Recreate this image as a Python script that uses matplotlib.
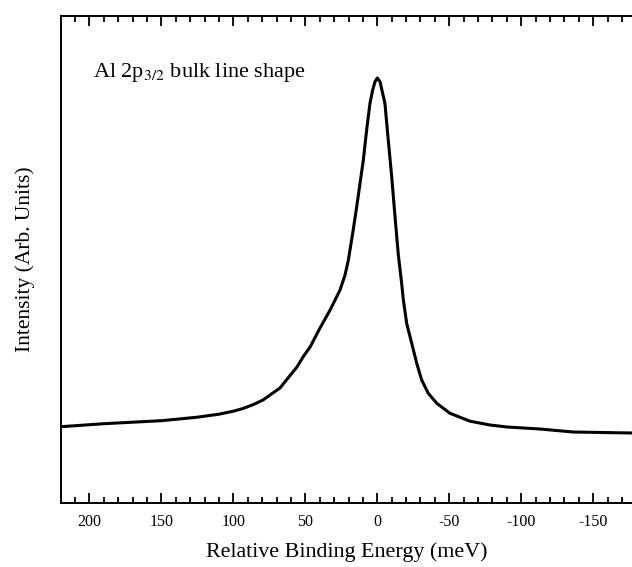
import matplotlib
matplotlib.use("Agg")
import matplotlib.pyplot as plt
from matplotlib.ticker import MultipleLocator

#####################################
# Data
#####################################

# relative binding energy (meV), high to low
energy = [219.7, 190, 150, 125, 110, 100, 93.3, 86, 79.4, 74.5, 67.6, 62.0,
          55.8, 51.6, 46.7, 39.8, 32.8, 28.2, 25.9, 22.4, 20.1, 17.1, 14.3,
          12.0, 9.7, 7.4, 5.1, 3.2, 1.6, 0, -1.9, -3.7, -5.3, -7.6, -10.0,
          -12.3, -14.6, -16.9, -18.1, -20.4, -23.9, -27.4, -30.8, -35.4,
          -41.3, -50.5, -64.4, -78.3, -90, -113, -136, -176.9]

# intensity (arbitrary units)
intensity = [76, 79, 82, 85.5, 88.5, 91.5, 94.2, 98.2, 102.7, 107.7, 114.7,
             124.7, 135.7, 145.7, 155.7, 174.7, 192.7, 206, 212.7, 227.7, 242.7,
             269.4, 296, 319.4, 342.7, 372.7, 399.4, 412.7, 421, 424.7, 421,
             409.4, 399.4, 362.7, 326, 286, 248, 219.4, 202.7, 179.4, 159.4,
             139.4, 122.7, 109.4, 99.4, 89.4, 81.5, 77.7, 75.7, 73.7, 70.7, 69.7]

plt.rcParams["font.family"] = ["Liberation Serif", "DejaVu Serif"]
plt.rcParams["mathtext.fontset"] = "stix"
plt.rcParams["axes.unicode_minus"] = False

fig = plt.figure(figsize=(6.32, 5.67), dpi=100)
ax = fig.add_axes([0.0965, 0.1134, 0.9035, 0.8589])

ax.plot(energy, intensity, color="black", linewidth=2.2,
        solid_joinstyle="round", solid_capstyle="round")

ax.set_xlim(219.7, -176.9)
ax.set_ylim(0, 487)

# ticks: inward, on top and bottom, no y ticks
ax.xaxis.set_major_locator(MultipleLocator(50))
ax.xaxis.set_minor_locator(MultipleLocator(10))
ax.tick_params(axis="x", which="both", direction="in", top=True, bottom=True,
               width=1.3, labelsize=11.5, pad=8)
ax.tick_params(axis="x", which="major", length=7.5)
ax.tick_params(axis="x", which="minor", length=4.5)
ax.set_yticks([])

for side in ["left", "bottom", "top"]:
    ax.spines[side].set_linewidth(1.4)
ax.spines["right"].set_visible(False)

ax.set_xlabel("Relative Binding Energy (meV)", fontsize=15.8, labelpad=9)
ax.set_ylabel("Intensity (Arb. Units)", fontsize=15.5, labelpad=19)

ax.text(0.056, 0.874, r"Al 2p$_{3/2}$ bulk line shape", transform=ax.transAxes,
        fontsize=16, va="baseline", ha="left")

fig.savefig("out.png", dpi=100)
